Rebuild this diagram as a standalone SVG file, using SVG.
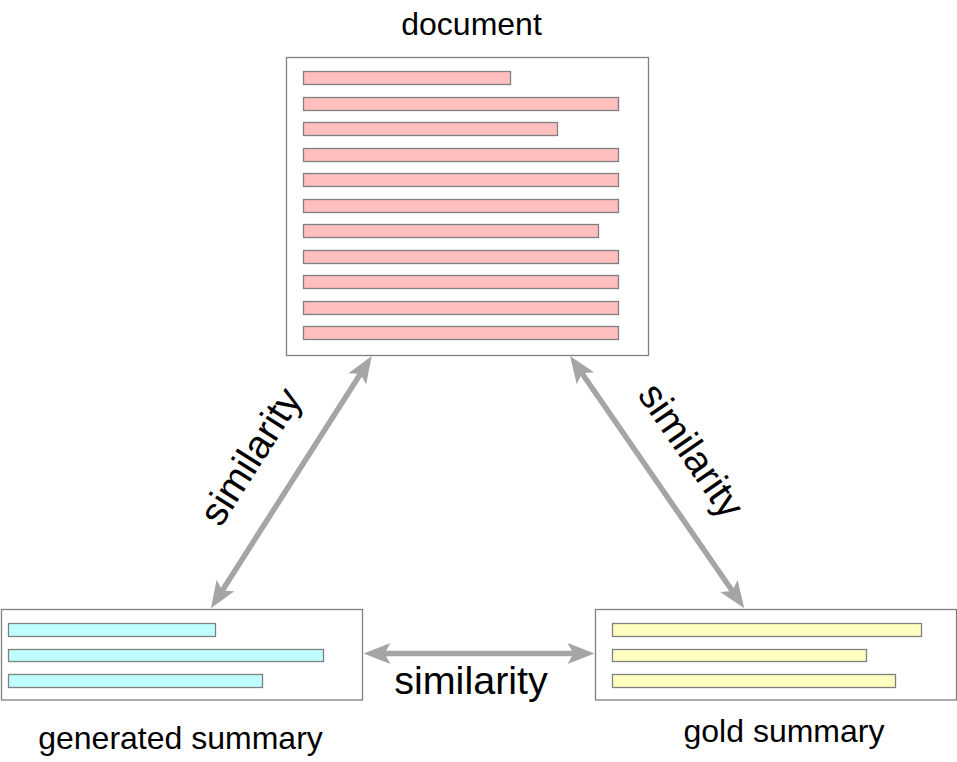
<svg xmlns="http://www.w3.org/2000/svg" width="957" height="762" viewBox="0 0 957 762">
<style>
.box{fill:#fff;stroke:#808080;stroke-width:1.3}
.bar{stroke:#808080;stroke-width:1.3}
.doc .bar{fill:#ffbfbf}
.gen .bar{fill:#bfffff}
.gold .bar{fill:#ffffbf}
.lbl{font-family:"Liberation Sans",Arial,sans-serif;font-size:32px;fill:#000;text-anchor:middle}
.sim{font-family:"Liberation Sans",Arial,sans-serif;font-size:39.5px;fill:#000;text-anchor:middle}
.conn{stroke:#a5a5a5;stroke-width:5.5;fill:none;marker-start:url(#head);marker-end:url(#head)}
</style>
<defs>
<marker id="head" markerUnits="userSpaceOnUse" viewBox="-8 -12 30 24" markerWidth="30" markerHeight="24" refX="0" refY="0" orient="auto-start-reverse">
<path d="M20,0 L-7,-10.5 L-1,0 L-7,10.5 Z" fill="#a5a5a5"/>
</marker>
</defs>
<rect width="957" height="762" fill="#fff"/>
<g id="document" class="doc">
<rect class="box" x="286.5" y="57.5" width="362" height="298"/>
<rect class="bar" x="303.5" y="71.5" width="207" height="13"/>
<rect class="bar" x="303.5" y="97.5" width="315" height="13"/>
<rect class="bar" x="303.5" y="122.5" width="254" height="13"/>
<rect class="bar" x="303.5" y="148.5" width="315" height="13"/>
<rect class="bar" x="303.5" y="173.5" width="315" height="13"/>
<rect class="bar" x="303.5" y="199.5" width="315" height="13"/>
<rect class="bar" x="303.5" y="224.5" width="295" height="13"/>
<rect class="bar" x="303.5" y="250.5" width="315" height="13"/>
<rect class="bar" x="303.5" y="275.5" width="315" height="13"/>
<rect class="bar" x="303.5" y="301.5" width="315" height="13"/>
<rect class="bar" x="303.5" y="326.5" width="315" height="13"/>
<text class="lbl" x="471.5" y="35">document</text>
</g>
<g id="generated-summary" class="gen">
<rect class="box" x="1.5" y="609.5" width="361" height="90.5"/>
<rect class="bar" x="8.5" y="623.5" width="207" height="13"/>
<rect class="bar" x="8.5" y="649.5" width="315" height="12"/>
<rect class="bar" x="8.5" y="674.5" width="254" height="13"/>
<text class="lbl" x="180.5" y="748.5">generated summary</text>
</g>
<g id="gold-summary" class="gold">
<rect class="box" x="595.5" y="609.5" width="361" height="90.5"/>
<rect class="bar" x="612.5" y="623.5" width="309" height="13"/>
<rect class="bar" x="612.5" y="649.5" width="254" height="12"/>
<rect class="bar" x="612.5" y="674.5" width="283" height="13"/>
<text class="lbl" x="784" y="742">gold summary</text>
</g>
<g id="connectors">
<line class="conn" x1="361.0" y1="372.9" x2="221.7" y2="591.4"/>
<line class="conn" x1="581.4" y1="372.5" x2="732.9" y2="591.8"/>
<line class="conn" x1="383.5" y1="653.5" x2="574.5" y2="653.5"/>
<text class="sim" transform="translate(250,456) rotate(-57.5)" x="0" y="14">similarity</text>
<text class="sim" transform="translate(692,450) rotate(55.4)" x="0" y="14">similarity</text>
<text class="sim" x="471" y="694">similarity</text>
</g>
</svg>
